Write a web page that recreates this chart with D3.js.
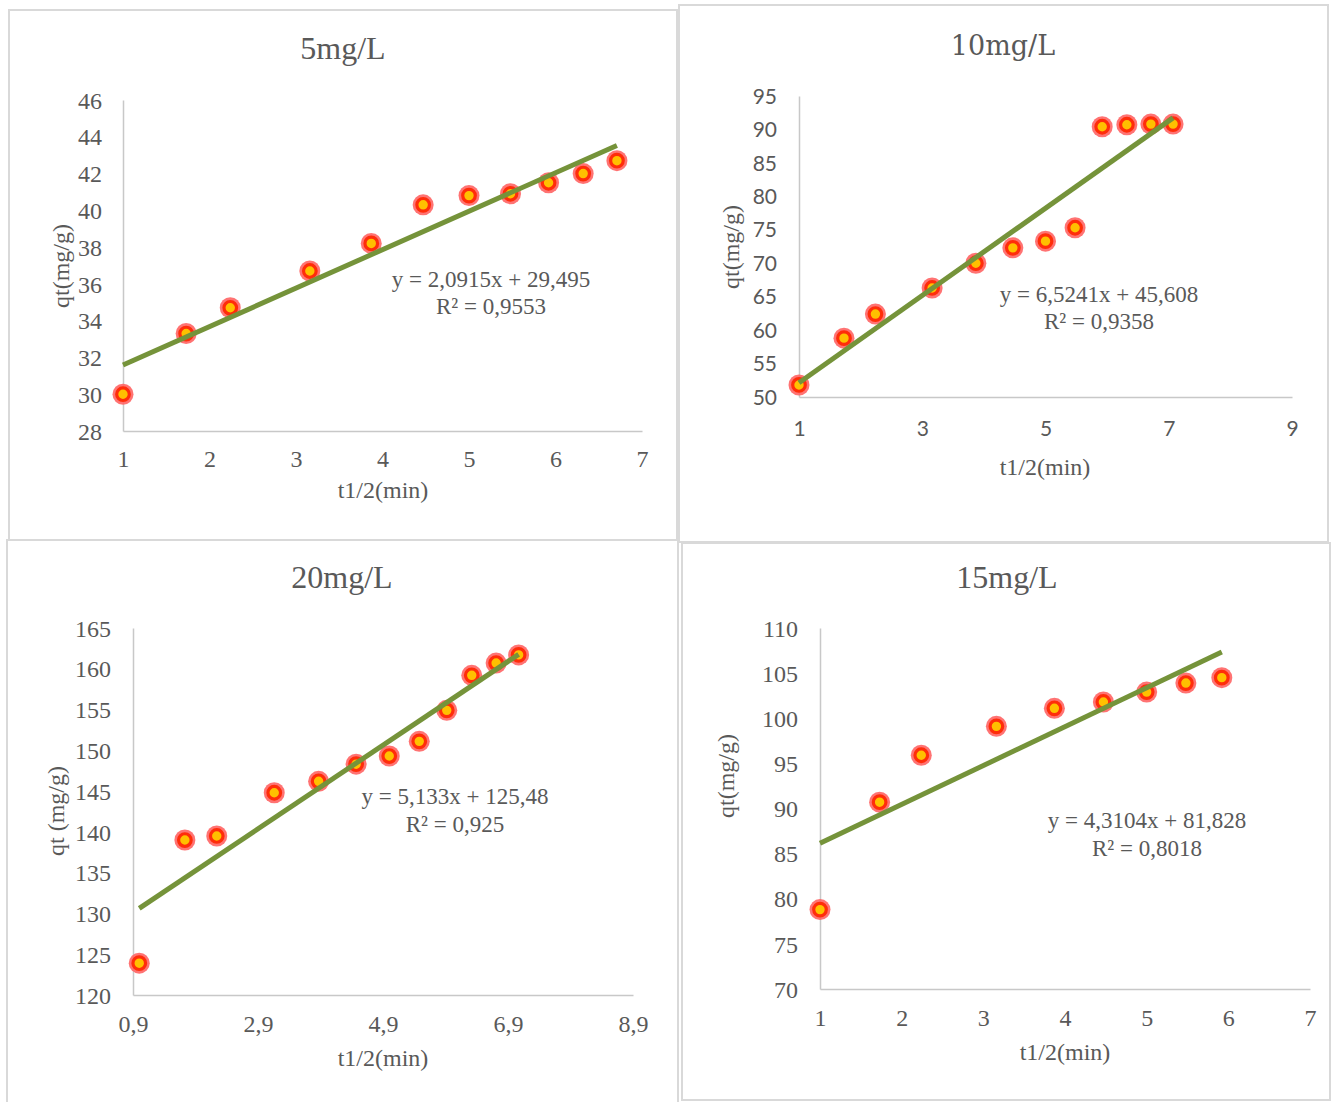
<!DOCTYPE html>
<html>
<head>
<meta charset="utf-8">
<script src="https://cdn.jsdelivr.net/npm/d3@7"></script>
<style>
  body { margin: 0; background: #fff; }
  svg text { fill: #595959; }
</style>
</head>
<body>
<svg id="chart" width="1338" height="1102"></svg>
<script>
// ---- data (t^1/2 in min^1/2, qt in mg/g) ----
const x5  = [1, 1.73, 2.24, 3.16, 3.87, 4.47, 5.00, 5.48, 5.92, 6.32, 6.71];
const q5  = [30.0, 33.3, 34.7, 36.7, 38.2, 40.3, 40.8, 40.9, 41.5, 42.0, 42.7];

const x10 = [1, 1.73, 2.24, 3.16, 3.87, 4.47, 5.00, 5.48, 5.92, 6.32, 6.71, 7.07];
const q10 = [51.8, 58.8, 62.4, 66.3, 70.0, 72.3, 73.3, 75.3, 90.4, 90.7, 90.8, 90.8];

const x20 = [1, 1.73, 2.24, 3.16, 3.87, 4.47, 5.00, 5.48, 5.92, 6.32, 6.71, 7.07];
const q20 = [123.9, 139.0, 139.5, 144.8, 146.2, 148.3, 149.3, 151.1, 154.9, 159.2, 160.7, 161.7];

const x15 = [1, 1.73, 2.24, 3.16, 3.87, 4.47, 5.00, 5.48, 5.92];
const q15 = [78.8, 90.7, 95.9, 99.1, 101.1, 101.8, 102.9, 103.9, 104.5];

// linear fits shown on the chart
const slopes     = {c5: 2.0915, c10: 6.5241, c20: 5.133, c15: 4.3104};
const intercepts = {c5: 29.495, c10: 45.608, c20: 125.48, c15: 81.828};
const r2s        = {c5: 0.9553, c10: 0.9358, c20: 0.925, c15: 0.8018};

// tick labels
const xTicks5  = [1, 2, 3, 4, 5, 6, 7];
const yTicks5  = [28, 30, 32, 34, 36, 38, 40, 42, 44, 46];
const xTicks10 = [1, 3, 5, 7, 9];
const yTicks10 = [50, 55, 60, 65, 70, 75, 80, 85, 90, 95];
const xTicks20 = [0.9, 2.9, 4.9, 6.9, 8.9];
const yTicks20 = [120, 125, 130, 135, 140, 145, 150, 155, 160, 165];
const xTicks15 = [1, 2, 3, 4, 5, 6, 7];
const yTicks15 = [70, 75, 80, 85, 90, 95, 100, 105, 110];

const SERIF = "'Liberation Serif', 'Times New Roman', serif";
const SANS = "Lato, 'Open Sans', sans-serif";

const svg = d3.select("#chart");
const comma = d => String(d).replace(".", ",");

function drawPanel(p) {
    const g = svg.append("g");

    // chart frame
    g.append("rect")
        .attr("x", p.frame[0]).attr("y", p.frame[1])
        .attr("width", p.frame[2] - p.frame[0])
        .attr("height", p.frame[3] - p.frame[1])
        .attr("fill", "#fff")
        .attr("stroke", "#d9d9d9")
        .attr("stroke-width", 2);

    // scales
    const xScale = d3.scaleLinear().domain([p.xTicks[0], p.xTicks[p.xTicks.length - 1]]).range(p.xRange);
    const yScale = d3.scaleLinear().domain([p.yTicks[0], p.yTicks[p.yTicks.length - 1]]).range(p.yRange);

    // axes
    const xAxis = d3.axisBottom(xScale).tickValues(p.xTicks).tickFormat(comma).tickSize(0);
    const yAxis = d3.axisLeft(yScale).tickValues(p.yTicks).tickFormat(comma).tickSize(0);

    const xAxisG = g.append("g")
        .attr("transform", `translate(0, ${p.yRange[0]})`)
        .call(xAxis);
    const yAxisG = g.append("g")
        .attr("transform", `translate(${p.xRange[0]}, 0)`)
        .call(yAxis);

    [xAxisG, yAxisG].forEach(a => {
        a.select(".domain").attr("stroke", "#c8c8c8").attr("stroke-width", 1.5);
        a.selectAll("text")
            .attr("font-family", p.tickFont)
            .attr("font-size", p.tickSize)
            .attr("fill", "#595959");
    });
    xAxisG.selectAll("text").attr("y", p.xTickOffset).attr("dy", 0);
    yAxisG.selectAll("text").attr("x", -p.yTickOffset).attr("dy", "0.34em");

    // markers
    const pts = p.xs.map((x, i) => ({x: x, y: p.ys[i]}));
    const dots = g.append("g").selectAll("g").data(pts).join("g")
        .attr("transform", d => `translate(${xScale(d.x)}, ${yScale(d.y)})`);
    dots.append("circle").attr("r", 10.5).attr("fill", "#ff6464").attr("opacity", 0.9);
    dots.append("circle").attr("r", 6.3).attr("fill", "#ffc000")
        .attr("stroke", "#ff2d0a").attr("stroke-width", 3.2);

    // trendline over the data range
    const xr = d3.extent(p.xs);
    const line = d3.line().x(d => xScale(d)).y(d => yScale(p.slope * d + p.intercept));
    g.append("path")
        .datum(xr)
        .attr("d", line)
        .attr("fill", "none")
        .attr("stroke", "#75933a")
        .attr("stroke-width", 5);

    // title
    g.append("text")
        .attr("x", p.title[1]).attr("y", p.title[2])
        .attr("text-anchor", "middle")
        .attr("font-family", p.titleFont)
        .attr("font-size", p.titleSize)
        .text(p.title[0]);

    // axis titles
    g.append("text")
        .attr("x", p.xLabel[0]).attr("y", p.xLabel[1])
        .attr("text-anchor", "middle")
        .attr("font-family", SERIF).attr("font-size", 24)
        .text("t1/2(min)");
    g.append("text")
        .attr("transform", `translate(${p.yLabel[1]}, ${p.yLabel[2]}) rotate(-90)`)
        .attr("text-anchor", "middle")
        .attr("dy", "0.3em")
        .attr("font-family", SERIF).attr("font-size", 24)
        .text(p.yLabel[0]);

    // equation
    const eq = g.append("text")
        .attr("text-anchor", "middle")
        .attr("font-family", SERIF).attr("font-size", 23);
    eq.append("tspan").attr("x", p.eq[0]).attr("y", p.eq[1])
        .text(`y = ${comma(p.slope)}x + ${comma(p.intercept)}`);
    eq.append("tspan").attr("x", p.eq[0]).attr("y", p.eq[2])
        .text(`R² = ${comma(p.r2)}`);
}

// draw order: left column, then right column (right frames overlap left ones)
drawPanel({
    frame: [9, 10, 677, 540],
    xs: x5, ys: q5, xTicks: xTicks5, yTicks: yTicks5,
    xRange: [123, 642], yRange: [431, 100],
    slope: slopes.c5, intercept: intercepts.c5, r2: r2s.c5,
    tickFont: SERIF, tickSize: 24, xTickOffset: 36, yTickOffset: 21,
    title: ["5mg/L", 343, 59], titleFont: SERIF, titleSize: 32,
    xLabel: [383, 498], yLabel: ["qt(mg/g)", 62, 266],
    eq: [491, 287, 314]
});

drawPanel({
    frame: [7, 540, 678, 1106],
    xs: x20, ys: q20, xTicks: xTicks20, yTicks: yTicks20,
    xRange: [133, 633], yRange: [995, 628],
    slope: slopes.c20, intercept: intercepts.c20, r2: r2s.c20,
    tickFont: SERIF, tickSize: 24, xTickOffset: 37, yTickOffset: 22,
    title: ["20mg/L", 342, 588], titleFont: SERIF, titleSize: 32,
    xLabel: [383, 1066], yLabel: ["qt (mg/g)", 57, 811],
    eq: [455, 804, 832]
});

drawPanel({
    frame: [679, 5, 1328, 542],
    xs: x10, ys: q10, xTicks: xTicks10, yTicks: yTicks10,
    xRange: [799, 1292], yRange: [397, 96],
    slope: slopes.c10, intercept: intercepts.c10, r2: r2s.c10,
    tickFont: SANS, tickSize: 21, xTickOffset: 39, yTickOffset: 22,
    title: ["10mg/L", 1003, 55], titleFont: "'DejaVu Serif', serif", titleSize: 27,
    xLabel: [1045, 475], yLabel: ["qt(mg/g)", 732, 247],
    eq: [1099, 302, 329]
});

drawPanel({
    frame: [682, 543, 1330, 1100],
    xs: x15, ys: q15, xTicks: xTicks15, yTicks: yTicks15,
    xRange: [820, 1310], yRange: [989, 628],
    slope: slopes.c15, intercept: intercepts.c15, r2: r2s.c15,
    tickFont: SERIF, tickSize: 24, xTickOffset: 37, yTickOffset: 22,
    title: ["15mg/L", 1007, 588], titleFont: SERIF, titleSize: 32,
    xLabel: [1065, 1060], yLabel: ["qt(mg/g)", 727, 776],
    eq: [1147, 828, 856]
});
</script>
</body>
</html>
